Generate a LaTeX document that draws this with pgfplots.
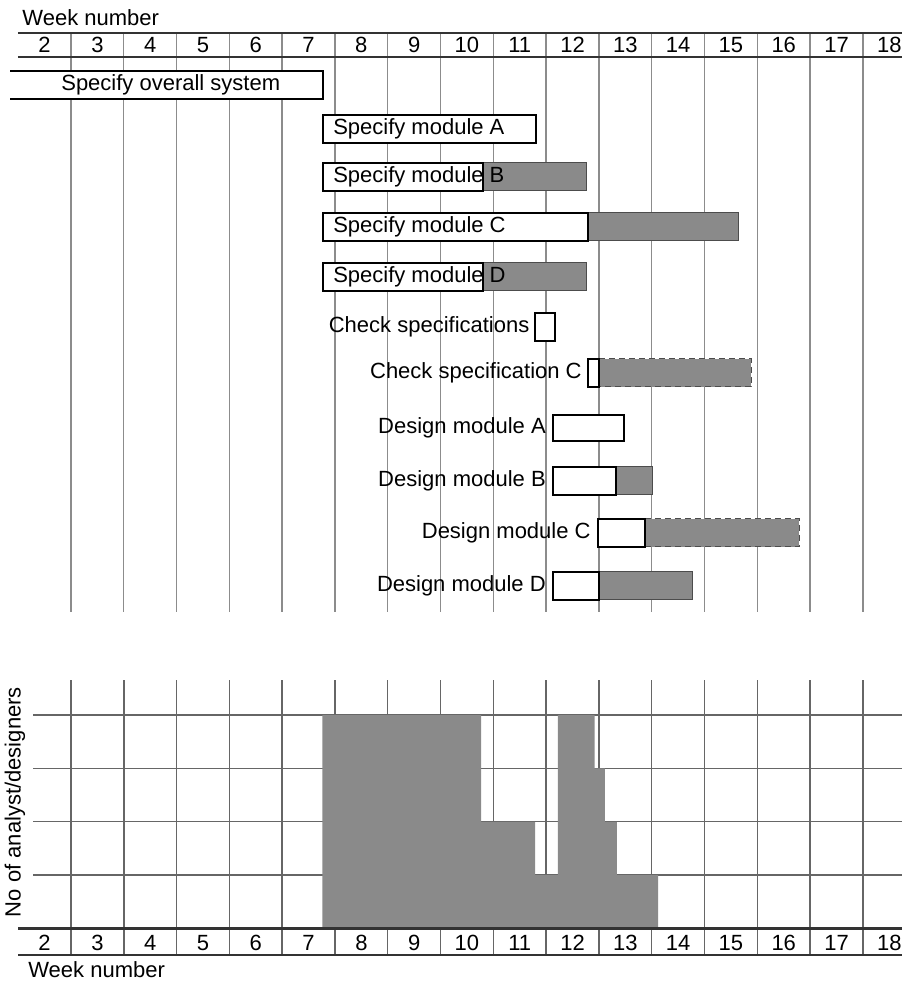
\documentclass[border=0pt]{standalone}
\usepackage{fontspec}
\setmainfont{Liberation Sans}
\usepackage{pgfplots}
\pgfplotsset{compat=1.18}
\definecolor{bargray}{gray}{0.54}
\begin{document}
\fontsize{11}{13}\selectfont
\begin{tikzpicture}[font=\fontsize{11}{13}\selectfont]
% ---------------- Gantt chart ----------------
\begin{axis}[
  at={(5pt,185pt)}, anchor=south west, scale only axis,
  width=446pt, height=289.5pt,
  xmin=1.345, xmax=18.24, ymin=-612, ymax=-33,
  axis line style={draw=none},
  xtick={2,...,18}, xticklabel pos=upper,
  x tick label style={anchor=center, yshift=-6pt},
  major tick length=0pt, ytick=\empty,
  extra x ticks={2.5,3.5,...,17.5}, extra x tick labels={},
  extra x tick style={grid=major},
  major grid style={black!45, line width=0.7pt},
  xlabel={Week number},
  x label style={at={(rel axis cs:0.0135,1.026)}, anchor=west, inner sep=0pt},
  clip mode=individual,
  /pgf/number format/assume math mode=true,
]
\draw[line width=1.4pt, black!80] (axis cs:1.496,-33) -- (axis cs:18.24,-33);
\draw[line width=1.4pt, black!80] (axis cs:1.496,-57) -- (axis cs:18.24,-57);
% gray (slack) parts
\addplot[fill=bargray, draw=black!70, line width=0.5pt] coordinates {(10.30,-163)(12.27,-163)(12.27,-191)(10.30,-191)} --cycle;
\addplot[fill=bargray, draw=black!70, line width=0.5pt] coordinates {(12.29,-213)(15.15,-213)(15.15,-241)(12.29,-241)} --cycle;
\addplot[fill=bargray, draw=black!70, line width=0.5pt] coordinates {(10.30,-263)(12.27,-263)(12.27,-291)(10.30,-291)} --cycle;
\addplot[fill=bargray, draw=black!70, line width=0.5pt, densely dashed] coordinates {(12.50,-359)(15.38,-359)(15.38,-387)(12.50,-387)} --cycle;
\addplot[fill=bargray, draw=black!70, line width=0.5pt] coordinates {(12.82,-467)(13.52,-467)(13.52,-495)(12.82,-495)} --cycle;
\addplot[fill=bargray, draw=black!70, line width=0.5pt, densely dashed] coordinates {(13.37,-519)(16.29,-519)(16.29,-547)(13.37,-547)} --cycle;
\addplot[fill=bargray, draw=black!70, line width=0.5pt] coordinates {(12.50,-572)(14.28,-572)(14.28,-600)(12.50,-600)} --cycle;
% white (activity) parts
\addplot[fill=white, draw=black, line width=1pt] coordinates {(0,-71)(7.27,-71)(7.27,-99)(0,-99)} --cycle;
\addplot[fill=white, draw=black, line width=1pt] coordinates {(7.27,-115)(11.31,-115)(11.31,-143)(7.27,-143)} --cycle;
\addplot[fill=white, draw=black, line width=1pt] coordinates {(7.27,-163)(10.30,-163)(10.30,-191)(7.27,-191)} --cycle;
\addplot[fill=white, draw=black, line width=1pt] coordinates {(7.27,-213)(12.29,-213)(12.29,-241)(7.27,-241)} --cycle;
\addplot[fill=white, draw=black, line width=1pt] coordinates {(7.27,-263)(10.30,-263)(10.30,-291)(7.27,-291)} --cycle;
\addplot[fill=white, draw=black, line width=1pt] coordinates {(11.29,-313)(11.67,-313)(11.67,-341)(11.29,-341)} --cycle;
\addplot[fill=white, draw=black, line width=1pt] coordinates {(12.29,-359)(12.50,-359)(12.50,-387)(12.29,-387)} --cycle;
\addplot[fill=white, draw=black, line width=1pt] coordinates {(11.63,-415)(12.97,-415)(12.97,-441)(11.63,-441)} --cycle;
\addplot[fill=white, draw=black, line width=1pt] coordinates {(11.63,-467)(12.82,-467)(12.82,-495)(11.63,-495)} --cycle;
\addplot[fill=white, draw=black, line width=1pt] coordinates {(12.48,-519)(13.37,-519)(13.37,-547)(12.48,-547)} --cycle;
\addplot[fill=white, draw=black, line width=1pt] coordinates {(11.63,-572)(12.50,-572)(12.50,-600)(11.63,-600)} --cycle;
% labels
\node[inner sep=0pt] at (axis cs:4.39,-85) {Specify overall system};
\node[anchor=west, inner sep=0pt] at (axis cs:7.46,-129) {Specify module A};
\node[anchor=west, inner sep=0pt] at (axis cs:7.46,-177) {Specify module B};
\node[anchor=west, inner sep=0pt] at (axis cs:7.46,-227) {Specify module C};
\node[anchor=west, inner sep=0pt] at (axis cs:7.46,-277) {Specify module D};
\node[anchor=east, inner sep=0pt] at (axis cs:11.19,-327) {Check specifications};
\node[anchor=east, inner sep=0pt] at (axis cs:12.18,-373) {Check specification C};
\node[anchor=east, inner sep=0pt] at (axis cs:11.50,-428) {Design module A};
\node[anchor=east, inner sep=0pt] at (axis cs:11.50,-481) {Design module B};
\node[anchor=east, inner sep=0pt] at (axis cs:12.35,-533) {Design module C};
\node[anchor=east, inner sep=0pt] at (axis cs:11.50,-586) {Design module D};
\end{axis}
% ---------------- Resource histogram ----------------
\begin{axis}[
  at={(16.5pt,13.5pt)}, anchor=south west, scale only axis,
  width=434.5pt, height=137.5pt,
  xmin=1.78, xmax=18.24, ymin=-0.5, ymax=4.66,
  axis line style={draw=none},
  xtick={2,...,18},
  x tick label style={anchor=center, yshift=6pt},
  major tick length=0pt,
  ytick={1,2,3,4}, yticklabels={}, ymajorgrids,
  extra x ticks={2.5,3.5,...,17.5}, extra x tick labels={},
  extra x tick style={grid=major},
  major grid style={black!60, line width=0.7pt},
  xlabel={Week number},
  x label style={at={(rel axis cs:-0.0058,-0.0545)}, anchor=west, inner sep=0pt},
  ylabel={No of analyst/designers},
  y label style={at={(rel axis cs:-0.0207,0.556)}, anchor=center, inner sep=0pt},
  clip mode=individual,
  /pgf/number format/assume math mode=true,
]
\addplot[fill=bargray, draw=none, const plot] coordinates {(7.26,0)(7.26,4)(10.27,2)(11.29,1)(11.72,4)(12.42,3)(12.61,2)(12.84,1)(13.62,0)} --cycle;
\draw[line width=1.4pt, black!80] (axis cs:1.496,0) -- (axis cs:18.24,0);
\draw[line width=1.4pt, black!80] (axis cs:1.496,-0.5) -- (axis cs:18.24,-0.5);
\end{axis}
\pgfresetboundingbox
\useasboundingbox (0,0) rectangle (451pt,491pt);
\end{tikzpicture}
\end{document}
